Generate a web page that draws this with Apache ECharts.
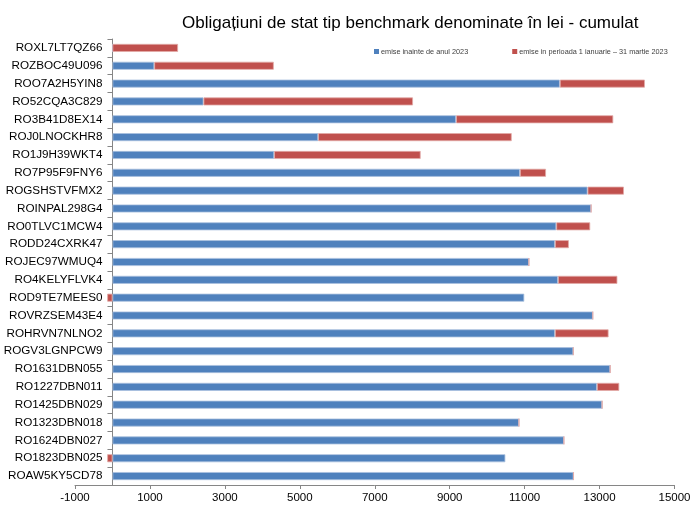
<!DOCTYPE html>
<html>
<head>
<meta charset="utf-8">
<script src="https://cdn.jsdelivr.net/npm/echarts@6/dist/echarts.min.js"></script>
<style>
html,body{margin:0;padding:0;background:#fff;}
#c{width:692px;height:507px;}
</style>
</head>
<body>
<div id="c"></div>
<script>
const titleText = 'Obligațiuni de stat tip benchmark denominate în lei - cumulat';
const seriesNames = ['emise inainte de anul 2023', 'emise in perioada 1 ianuarie – 31 martie 2023'];
const categories = ['ROXL7LT7QZ66','ROZBOC49U096','ROO7A2H5YIN8','RO52CQA3C829','RO3B41D8EX14','ROJ0LNOCKHR8','RO1J9H39WKT4','RO7P95F9FNY6','ROGSHSTVFMX2','ROINPAL298G4','RO0TLVC1MCW4','RODD24CXRK47','ROJEC97WMUQ4','RO4KELYFLVK4','ROD9TE7MEES0','ROVRZSEM43E4','ROHRVN7NLNO2','ROGV3LGNPCW9','RO1631DBN055','RO1227DBN011','RO1425DBN029','RO1323DBN018','RO1624DBN027','RO1823DBN025','ROAW5KY5CD78'];
const before2023 = [0, 1115, 11940, 2430, 9170, 5490, 4315, 10875, 12680, 12775, 11845, 11810, 11115, 11890, 10990, 12820, 11810, 12300, 13285, 12930, 13070, 10850, 12050, 10485, 12305];
const q1of2023 = [1750, 3190, 2270, 5590, 4195, 5165, 3910, 695, 970, 0, 905, 370, 0, 1585, -140, 0, 1430, 0, 0, 595, 0, 0, 0, -140, 0];
const xTicks = {min: -1000, max: 15000, interval: 2000};

const font = 'Liberation Sans, Arial, sans-serif';
const gridLeft = 75, gridRight = 17.5;
const plotW = 692 - gridLeft - gridRight;
// shift the category axis so it sits at value 0
const zeroOffset = -plotW * (0 - xTicks.min) / (xTicks.max - xTicks.min);

const chart = echarts.init(document.getElementById('c'), null, {renderer: 'canvas'});
chart.setOption({
  animation: false,
  backgroundColor: '#ffffff',
  title: {
    text: titleText,
    left: 177, top: 10,
    textStyle: {fontFamily: font, fontSize: 17, fontWeight: 'normal', color: '#000'}
  },
  legend: {
    left: 369, top: 43,
    icon: 'rect', itemWidth: 5, itemHeight: 5, itemGap: 44,
    itemStyle: {borderWidth: 0},
    textStyle: {fontFamily: font, fontSize: 7.3, color: '#404040', padding: [0,0,0,-3]},
    data: seriesNames
  },
  grid: {left: gridLeft, right: gridRight, top: 39, bottom: 22, containLabel: false, outerBoundsMode: 'none'},
  xAxis: {
    type: 'value', min: xTicks.min, max: xTicks.max, interval: xTicks.interval,
    axisLine: {show: true, onZero: false, lineStyle: {color: '#868686', width: 1}},
    axisTick: {show: true, length: 4, lineStyle: {color: '#868686'}},
    axisLabel: {fontFamily: font, fontSize: 11.5, color: '#000', margin: 7, formatter: v => String(v)},
    splitLine: {show: false}
  },
  yAxis: {
    type: 'category', inverse: true, data: categories,
    offset: zeroOffset,
    axisLine: {show: true, onZero: false, lineStyle: {color: '#868686', width: 1}},
    axisTick: {show: true, length: 5, lineStyle: {color: '#868686'}},
    axisLabel: {fontFamily: font, fontSize: 11.7, color: '#000', margin: 10},
    splitLine: {show: false}
  },
  series: [
    {
      name: seriesNames[0], type: 'bar', stack: 'total', data: before2023,
      barWidth: 8,
      itemStyle: {color: '#4F81BD', borderColor: '#A9C0DE', borderWidth: 0.8}
    },
    {
      name: seriesNames[1], type: 'bar', stack: 'total', data: q1of2023,
      barWidth: 8,
      itemStyle: {color: '#C0504D', borderColor: '#E2A9A7', borderWidth: 0.8}
    }
  ]
});
</script>
</body>
</html>
